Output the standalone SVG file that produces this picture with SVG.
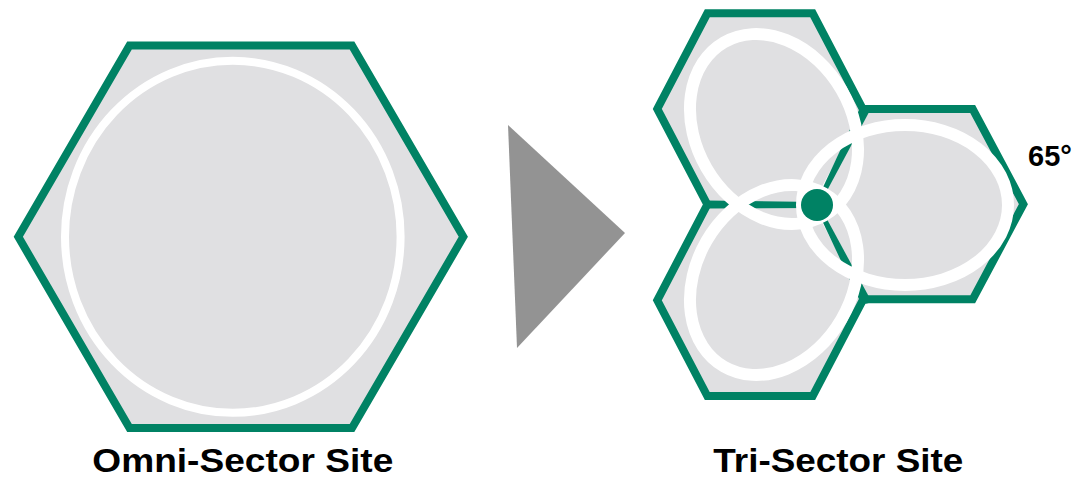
<svg xmlns="http://www.w3.org/2000/svg" width="1074" height="477" viewBox="0 0 1074 477">
  <style>
    .hexfill { fill: #E0E0E2; stroke: none; }
    .hex { fill: #E0E0E2; stroke: #008264; stroke-width: 8; stroke-linejoin: miter; }
    .outline { fill: none; stroke: #008264; stroke-width: 8; stroke-linejoin: miter; stroke-miterlimit: 10; }
    .green { fill: #008264; stroke: none; }
    .beam { fill: none; stroke: #FFFFFF; stroke-width: 12; }
    .omnibeam { fill: none; stroke: #FFFFFF; stroke-width: 8; }
    .label { font-family: "Liberation Sans", Arial, sans-serif; font-weight: bold; fill: #000000; }
  </style>
  <rect width="1074" height="477" fill="#FFFFFF"/>

  <g id="omni-site">
    <polygon class="hex" points="18.3,236.8 129.5,45.5 352,45.5 463.3,236.8 352,428.1 129.5,428.1"/>
    <ellipse class="omnibeam" cx="232.8" cy="236.8" rx="167.8" ry="176"/>
  </g>

  <g id="arrow">
    <polygon points="508,125 625,233 517,348" fill="#939393"/>
  </g>

  <g id="tri-site">
    <g id="cells">
      <polygon class="hexfill" points="657.3,108.9 707.3,13.3 812.7,13.3 862.7,108.9 812.7,204.5 707.3,204.5"/>
      <polygon class="hexfill" points="657.3,300.3 707.3,204.5 812.7,204.5 862.7,300.3 812.7,396 707.3,396"/>
      <polygon class="hexfill" points="818,204.2 868,109 972.7,109 1023.4,204.2 972.7,299.3 868,299.3"/>
      <path class="outline" d="M657.3,108.9 L707.3,13.3 L812.7,13.3 L862.7,108.9 L868,109 L972.7,109 L1023.4,204.2 L972.7,299.3 L868,299.3 L862.7,300.3 L812.7,396 L707.3,396 L657.3,300.3 L707.3,204.5 Z"/>
    </g>
    <g id="connectors">
      <polygon class="green" points="707,200.5 817,202 817,208 707,208.5"/>
      <polygon class="green" points="815.2,204.1 860.5,106.8 869.5,111.2 818.8,205.9"/>
      <polygon class="green" points="815.2,205.9 860.5,302.3 869.5,297.7 818.8,204.1"/>
    </g>
    <g id="beams">
      <ellipse class="beam" cx="774" cy="129" rx="100" ry="78" transform="rotate(60 774 129)"/>
      <ellipse class="beam" cx="774" cy="280" rx="100" ry="78" transform="rotate(-60 774 280)"/>
      <ellipse class="beam" cx="905" cy="205" rx="103" ry="80"/>
    </g>
    <circle id="site-mast" class="green" cx="817" cy="205" r="16"/>
  </g>

  <g id="labels">
    <text class="label" x="242.8" y="471.7" font-size="34" text-anchor="middle" textLength="301" lengthAdjust="spacingAndGlyphs">Omni-Sector Site</text>
    <text class="label" x="838.3" y="471.7" font-size="34" text-anchor="middle" textLength="250" lengthAdjust="spacingAndGlyphs">Tri-Sector Site</text>
    <text class="label" x="1028" y="165.5" font-size="29">65°</text>
  </g>
</svg>
